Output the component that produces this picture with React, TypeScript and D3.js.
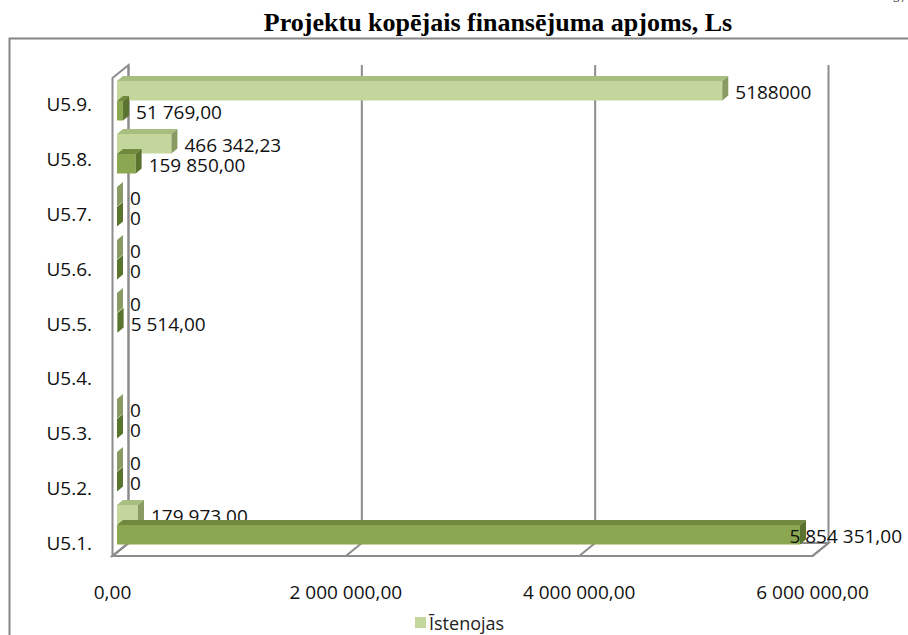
import React from 'react';
import * as d3 from 'd3';

const categories = ['U5.9.', 'U5.8.', 'U5.7.', 'U5.6.', 'U5.5.', 'U5.4.', 'U5.3.', 'U5.2.', 'U5.1.'];
const seriesIstenojas: (number | null)[] = [5188000, 466342.23, 0, 0, 0, null, 0, 0, 179973];
const seriesOther: (number | null)[] = [51769, 159850, 0, 0, 5514, null, 0, 0, 5854351];
const labelsIstenojas: (string | null)[] = ['5188000', '466 342,23', '0', '0', '0', null, '0', '0', '179 973,00'];
const labelsOther: (string | null)[] = ['51 769,00', '159 850,00', '0', '0', '5 514,00', null, '0', '0', '5 854 351,00'];
const xTicks = [0, 2000000, 4000000, 6000000];
const title = 'Projektu kopējais finansējuma apjoms, Ls';
const legendLabel = 'Īstenojas';

const W = 908;
const H = 635;
const FONT = '"Open Sans", Lato, sans-serif';
const fmt = d3.formatLocale({ decimal: ',', thousands: ' ', grouping: [3], currency: ['', ''] }).format(',.2f');

const x = d3.scaleLinear().domain([0, 6000000]).range([117, 817]);
const y = d3.scalePoint<string>().domain(categories).range([101, 525]);
const yLabel = d3.scalePoint<string>().domain(categories).range([104, 543]);

const DX = 6;
const DY = 5;
const BH = 19.5;
const FRONT_OFF = -4.5;
const BACK_OFF = 11.5;
const WALL_TOP_FRONT = 78;
const WALL_TOP_BACK = 65;
const FLOOR_FRONT = 556;
const FLOOR_BACK = 543;
const GRID = '#8c8c8c';

const lightColors = { front: '#C3D69B', top: '#A8BE7E', side: '#879B63' };
const darkColors = { front: '#8BA751', top: '#71893F', side: '#5A7430' };

const pts = (p: number[][]) => p.map((d) => d.join(',')).join(' ');

function Bar({ v, yTop, c }: { v: number; yTop: number; c: { front: string; top: string; side: string } }) {
  const x0 = x(0);
  const x1 = x(v);
  const yb = yTop + BH;
  return (
    <g>
      {x1 > x0 && <rect x={x0} y={yTop} width={x1 - x0} height={BH} fill={c.front} />}
      <polygon points={pts([[x0, yTop], [x0 + DX, yTop - DY], [x1 + DX, yTop - DY], [x1, yTop]])} fill={c.top} />
      <polygon points={pts([[x1, yTop], [x1 + DX, yTop - DY], [x1 + DX, yb - DY], [x1, yb]])} fill={c.side} />
    </g>
  );
}

function Label({ v, text, yc }: { v: number; text: string; yc: number }) {
  const xs = x(v) + 13;
  const est = text.length * 9.6;
  const over = xs + est > 902;
  return (
    <text
      x={over ? 902 : xs}
      y={yc + 1}
      textAnchor={over ? 'end' : 'start'}
      dominantBaseline="central"
      fontFamily={FONT}
      fontSize={19}
      fill="#111"
    >
      {text}
    </text>
  );
}

export default function App() {
  const wallLeftFront = x(0) + FRONT_OFF;
  const wallLeftBack = x(0) + BACK_OFF;
  return (
    <svg width={W} height={H} style={{ position: 'absolute', left: 0, top: 0, background: '#fff' }}>
      <rect x={0} y={0} width={W} height={H} fill="#fff" />
      <text x={893} y={2} fontFamily='"Liberation Serif", serif' fontSize={14} fill="#444">37</text>
      <text x={498} y={31} textAnchor="middle" fontFamily='"Liberation Serif", "Times New Roman", serif' fontWeight="bold" fontSize={26}>
        {title}
      </text>
      <rect x={9.5} y={38.5} width={W + 20} height={H + 20} fill="none" stroke="#868686" strokeWidth={2} />

      {/* left wall */}
      <polygon
        points={pts([
          [wallLeftFront, WALL_TOP_FRONT],
          [wallLeftBack, WALL_TOP_BACK],
          [wallLeftBack, FLOOR_BACK],
          [wallLeftFront, FLOOR_FRONT],
        ])}
        fill="none"
        stroke={GRID}
        strokeWidth={2}
      />
      {/* floor */}
      <polygon
        points={pts([
          [x(0) + FRONT_OFF, FLOOR_FRONT],
          [x(6000000) + FRONT_OFF, FLOOR_FRONT],
          [x(6000000) + BACK_OFF, FLOOR_BACK],
          [x(0) + BACK_OFF, FLOOR_BACK],
        ])}
        fill="none"
        stroke={GRID}
        strokeWidth={2}
      />
      {xTicks.map((t) => (
        <g key={t}>
          <line x1={x(t) + BACK_OFF} x2={x(t) + BACK_OFF} y1={WALL_TOP_BACK} y2={FLOOR_BACK} stroke={GRID} strokeWidth={2} />
          <line x1={x(t) + FRONT_OFF} x2={x(t) + BACK_OFF} y1={FLOOR_FRONT} y2={FLOOR_BACK} stroke={GRID} strokeWidth={2} />
          <text x={x(t) + FRONT_OFF} y={592} textAnchor="middle" dominantBaseline="central" fontFamily={FONT} fontSize={19} fill="#111">
            {fmt(t)}
          </text>
        </g>
      ))}

      {categories.map((cat, i) => {
        const c = y(cat) as number;
        const a = seriesIstenojas[i];
        const b = seriesOther[i];
        const la = labelsIstenojas[i];
        const lb = labelsOther[i];
        return (
          <g key={cat}>
            <text x={92} y={yLabel(cat) as number} textAnchor="end" dominantBaseline="central" fontFamily={FONT} fontSize={19} fill="#111">
              {cat}
            </text>
            {a !== null && <Bar v={a} yTop={c - BH - 0.5} c={lightColors} />}
            {a !== null && la && <Label v={a} text={la} yc={c - BH / 2 - 0.5} />}
            {b !== null && <Bar v={b} yTop={c} c={darkColors} />}
            {b !== null && lb && <Label v={b} text={lb} yc={c + BH / 2} />}
          </g>
        );
      })}

      <rect x={415} y={617} width={11} height={11} fill={lightColors.front} />
      <text x={429} y={623} dominantBaseline="central" fontFamily={FONT} fontSize={18} fill="#222">
        {legendLabel}
      </text>
    </svg>
  );
}
